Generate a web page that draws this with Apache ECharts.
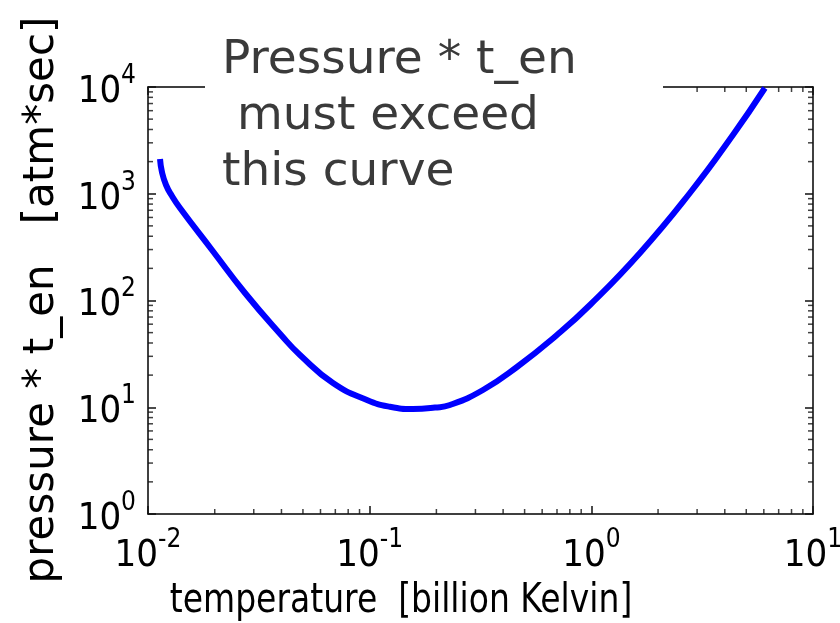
<!DOCTYPE html>
<html>
<head>
<meta charset="utf-8">
<script src="https://cdn.jsdelivr.net/npm/echarts@6/dist/echarts.min.js"></script>
<style>
  html, body { margin: 0; padding: 0; background: #fff; }
  #chart { width: 840px; height: 623px; }
</style>
</head>
<body>
<div id="chart"></div>
<script>
// curve (log-log)
const temperature = [0.01133, 0.01156, 0.01206, 0.01283, 0.01394, 0.01944, 0.02739, 0.04022, 0.04849, 0.06831, 0.09723, 0.1235, 0.1568, 0.1970, 0.2303, 0.3244, 0.4618, 0.6996, 0.9856, 1.657, 2.784, 4.351, 6.069]
const pressureTime = [2116, 1599, 1208, 952, 735.5, 297.2, 117.6, 46.5, 30.9, 16.87, 11.69, 10.10, 9.63, 9.93, 10.5, 14.51, 23.83, 47.52, 90.75, 278.6, 1016, 3551, 9787]

const xRange = [0.01, 10]
const yRange = [1, 10000]
const xMinor = [0.02, 0.03, 0.04, 0.05, 0.06, 0.07, 0.08, 0.09, 0.2, 0.3, 0.4, 0.5, 0.6, 0.7, 0.8, 0.9, 2, 3, 4, 5, 6, 7, 8, 9]
const yMinor = [2, 3, 4, 5, 6, 7, 8, 9, 20, 30, 40, 50, 60, 70, 80, 90, 200, 300, 400, 500, 600, 700, 800, 900, 2000, 3000, 4000, 5000, 6000, 7000, 8000, 9000]

const annotation = 'Pressure * t_en\n must exceed\nthis curve'
const xName = 'temperature  [billion Kelvin]'
const yName = 'pressure * t_en   [atm*sec]'

const chart = echarts.init(document.getElementById('chart'))

const condensed = '"DejaVu Sans Condensed", "DejaVu Sans", sans-serif'

// 10^n as rich text
const powLabel = (v) => '{b|10}{s|' + Math.round(Math.log10(v)) + '}'

const makeAxis = (position, range, withLabels) => ({
  type: 'log',
  position: position,
  min: range[0],
  max: range[1],
  axisLine: { show: true, lineStyle: { color: '#000', width: 1.5 } },
  axisTick: { show: true, inside: true, length: 8, lineStyle: { color: '#111', width: 1.5 } },
  splitLine: { show: false },
  axisLabel: withLabels ? {
    formatter: powLabel,
    margin: position === 'bottom' ? 13 : 12,
    rich: {
      b: { fontSize: 38, fontFamily: condensed, color: '#000', verticalAlign: 'bottom', lineHeight: 48 },
      s: { fontSize: 26, fontFamily: condensed, color: '#000', verticalAlign: 'top', lineHeight: 48 }
    }
  } : { show: false }
})

// minor ticks as small rect symbols sitting on the frame sides
const minorTicks = (data, size, offset) => ({
  type: 'scatter',
  silent: true,
  clip: false,
  symbol: 'rect',
  symbolSize: size,
  symbolOffset: offset,
  itemStyle: { color: '#111' },
  data: data
})

const option = {
  animation: false,
  grid: { left: 148, right: 27, top: 87, bottom: 109, outerBoundsMode: 'none' },
  xAxis: [makeAxis('bottom', xRange, true), makeAxis('top', xRange, false)],
  yAxis: [makeAxis('left', yRange, true), makeAxis('right', yRange, false)],
  series: [
    {
      type: 'line',
      data: temperature.map((t, i) => [t, pressureTime[i]]),
      showSymbol: false,
      smooth: true,
      lineStyle: { color: '#0000ff', width: 6 }
    },
    minorTicks(xMinor.map(v => [v, yRange[0]]), [1.5, 5], [0, -2.5]),
    minorTicks(xMinor.map(v => [v, yRange[1]]), [1.5, 5], [0, 2.5]),
    minorTicks(yMinor.map(v => [xRange[0], v]), [5, 1.5], [2.5, 0]),
    minorTicks(yMinor.map(v => [xRange[1], v]), [5, 1.5], [-2.5, 0])
  ],
  graphic: [
    {
      type: 'rect',
      z: 100,
      shape: { x: 205, y: 20, width: 458, height: 180 },
      style: { fill: '#fff' }
    },
    {
      type: 'text',
      z: 101,
      left: 222,
      top: 33,
      style: {
        text: annotation,
        fontSize: 47,
        lineHeight: 56,
        fontFamily: '"DejaVu Sans", sans-serif',
        fill: '#3a3a3a'
      }
    },
    {
      type: 'text',
      z: 101,
      x: 401,
      y: 601,
      scaleX: 0.805,
      style: {
        text: xName,
        fontSize: 41,
        fontFamily: '"DejaVu Sans", sans-serif',
        fill: '#000',
        align: 'center',
        verticalAlign: 'middle'
      }
    },
    {
      type: 'text',
      z: 101,
      x: 42,
      y: 300,
      rotation: Math.PI / 2,
      style: {
        text: yName,
        fontSize: 42,
        fontFamily: '"DejaVu Sans", sans-serif',
        fill: '#000',
        align: 'center',
        verticalAlign: 'middle'
      }
    }
  ]
}

chart.setOption(option)
</script>
</body>
</html>
